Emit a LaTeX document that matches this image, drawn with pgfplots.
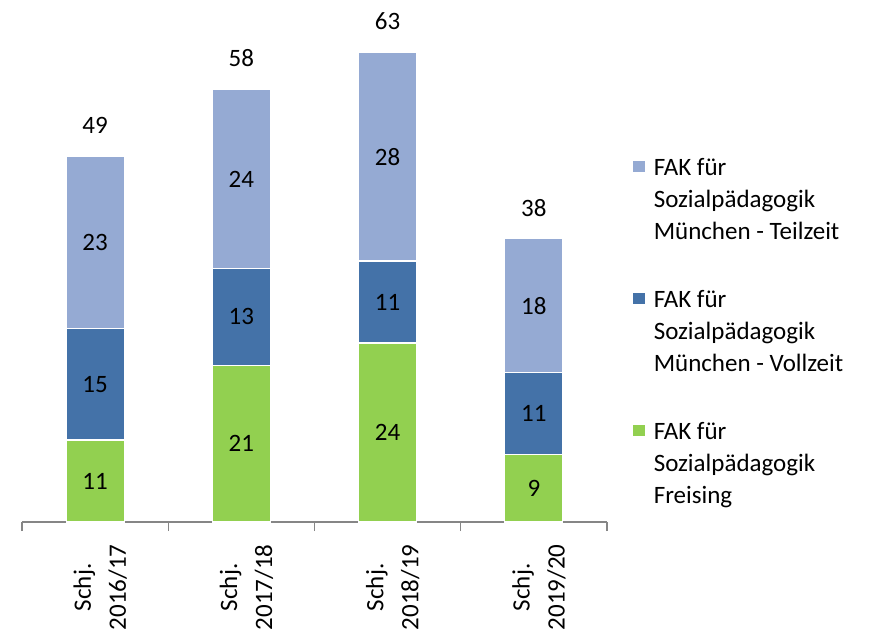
\documentclass[border=0pt]{standalone}
\usepackage{fontspec}
\setmainfont{Carlito}
\usepackage{pgfplots}
\pgfplotsset{compat=1.18}
\definecolor{cGreen}{RGB}{146,208,80}
\definecolor{cDark}{RGB}{68,114,168}
\definecolor{cLight}{RGB}{149,170,211}
\definecolor{cAxis}{RGB}{134,134,134}
\newcommand{\fs}{\fontsize{25}{32}\selectfont}
\newcommand{\fst}{\fontsize{25}{35}\selectfont}
\begin{document}
\begin{tikzpicture}
\begin{axis}[
  name=ax,
  scale only axis, width=585pt, height=522pt,
  xmin=-0.5, xmax=3.5, ymin=0, ymax=70,
  ybar stacked, bar width=58pt,
  stacked ignores zero=false,
  axis x line=bottom, axis y line=none,
  x axis line style={-, draw=cAxis, line width=1.2pt},
  xtick={0,1,2,3},
  xticklabels={{Schj.\\2016/17},{Schj.\\2017/18},{Schj.\\2018/19},{Schj.\\2019/20}},
  major tick length=0pt,
  xticklabel style={rotate=90, anchor=east, align=center, font=\fst, text=black, xshift=-19pt, yshift=-5pt},
  extra x ticks={-0.5,0.5,1.5,2.5,3.5},
  extra x tick labels={},
  extra x tick style={tick align=outside, major tick length=9pt, tick style={draw=cAxis, line width=1.2pt}},
  /pgf/number format/assume math mode=true,
  clip=false,
  legend style={at={(1.0444,0.7115)}, anchor=north west, draw=none, fill=none, inner sep=0pt, row sep=104pt, font=\fs, cells={anchor=base west}},
  legend image code/.code={\fill[#1,draw=none] (0pt,3pt) rectangle (12pt,14pt); \path (18pt,8pt);},
  reverse legend,
]
\addplot[fill=cGreen, draw=white, line width=1.2pt,
  nodes near coords, every node near coord/.append style={anchor=center, font=\fs, text=black}]
  coordinates {(0,11) (1,21) (2,24) (3,9)};
\addlegendentry{\begin{tabular}[t]{@{}l@{}}FAK für\\Sozialpädagogik\\Freising\end{tabular}}
\addplot[fill=cDark, draw=white, line width=1.2pt,
  nodes near coords, every node near coord/.append style={anchor=center, font=\fs, text=black}]
  coordinates {(0,15) (1,13) (2,11) (3,11)};
\addlegendentry{\begin{tabular}[t]{@{}l@{}}FAK für\\Sozialpädagogik\\München - Vollzeit\end{tabular}}
\addplot[fill=cLight, draw=white, line width=1.2pt,
  nodes near coords, every node near coord/.append style={anchor=center, font=\fs, text=black}]
  coordinates {(0,23) (1,24) (2,28) (3,18)};
\addlegendentry{\begin{tabular}[t]{@{}l@{}}FAK für\\Sozialpädagogik\\München - Teilzeit\end{tabular}}
\addplot[draw=none, fill=none, forget plot, point meta=explicit,
  nodes near coords, every node near coord/.append style={anchor=center, yshift=31pt, font=\fs, text=black}]
  coordinates {(0,0)[49] (1,0)[58] (2,0)[63] (3,0)[38]};
\end{axis}
\pgfresetboundingbox
\path (ax.south west) ++(-22pt,-111pt) rectangle ++(870pt,633pt);
\end{tikzpicture}
\end{document}
